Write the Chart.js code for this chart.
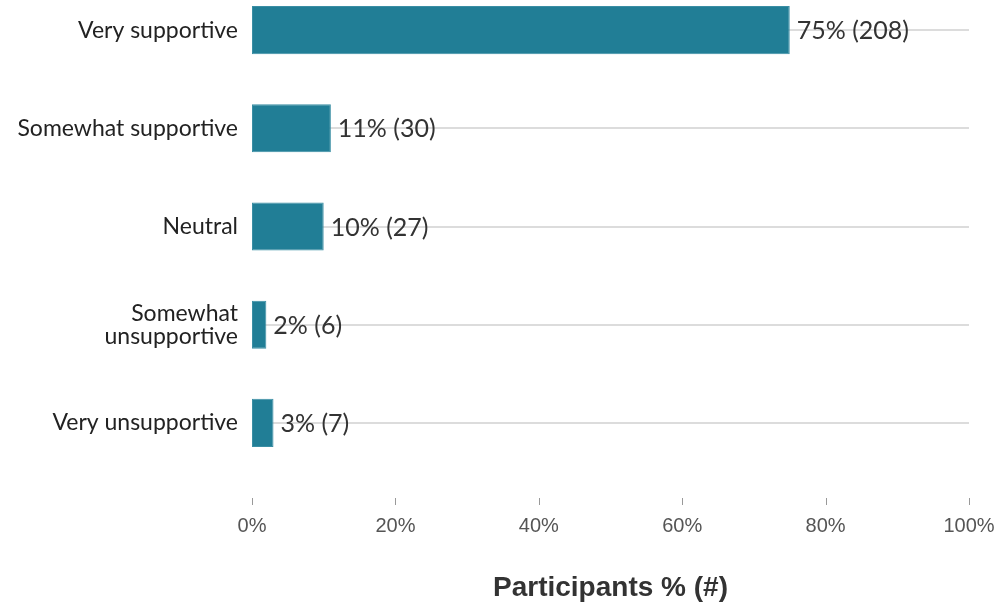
<!DOCTYPE html>
<html>
<head>
<meta charset="utf-8">
<script src="https://cdn.jsdelivr.net/npm/chart.js@4/dist/chart.umd.min.js"></script>
<style>
html,body{margin:0;padding:0;background:#fff;overflow:hidden;}
#outer{width:998px;height:605px;position:relative;overflow:hidden;}
#wrap{width:998px;height:624px;position:absolute;left:0;top:-19px;}
</style>
</head>
<body>
<div id="outer"><div id="wrap"><canvas id="c"></canvas></div></div>
<script>
const categories = ["Very supportive", "Somewhat supportive", "Neutral", ["Somewhat", "unsupportive"], "Very unsupportive"];
const percentValues = [75, 11, 10, 2, 3];
const countValues = [208, 30, 27, 6, 7];
const xTicks = [0, 20, 40, 60, 80, 100];
const axisTitle = "Participants % (#)";

const barColor = "#217e96";

const valueLabels = {
  id: 'valueLabels',
  afterDatasetsDraw(chart) {
    const ctx = chart.ctx;
    const meta = chart.getDatasetMeta(0);
    ctx.save();
    ctx.font = '25px Lato';
    ctx.fillStyle = '#333';
    ctx.textBaseline = 'middle';
    ctx.textAlign = 'left';
    meta.data.forEach((bar, i) => {
      ctx.fillText(percentValues[i] + '% (' + countValues[i] + ')', bar.x + 7, bar.y + 1);
    });
    ctx.restore();
  }
};

const tickMarks = {
  id: 'tickMarks',
  afterDraw(chart) {
    const ctx = chart.ctx;
    const xs = chart.scales.x;
    ctx.save();
    ctx.strokeStyle = '#999';
    ctx.lineWidth = 1;
    xTicks.forEach(v => {
      const px = Math.round(xs.getPixelForValue(v)) + 0.5;
      ctx.beginPath();
      ctx.moveTo(px, chart.chartArea.bottom + 26);
      ctx.lineTo(px, chart.chartArea.bottom + 33);
      ctx.stroke();
    });
    ctx.restore();
  }
};

new Chart(document.getElementById('c'), {
  type: 'bar',
  data: {
    labels: categories,
    datasets: [{
      data: percentValues,
      backgroundColor: barColor,
      borderColor: '#3a8ea4',
      borderWidth: 1,
      borderSkipped: false,
      barPercentage: 0.49,
      categoryPercentage: 1.0
    }]
  },
  options: {
    indexAxis: 'y',
    responsive: true,
    maintainAspectRatio: false,
    animation: false,
    layout: { padding: { top: 0, right: 29, left: 0, bottom: 0 } },
    plugins: { legend: { display: false }, tooltip: { enabled: false } },
    scales: {
      x: {
        min: 0, max: 100,
        afterBuildTicks(scale) { scale.ticks = xTicks.map(v => ({ value: v })); },
        afterFit(scale) { scale.height = 133; scale.paddingLeft = 0; scale.paddingRight = 0; },
        border: { display: false },
        grid: { display: false },
        ticks: {
          padding: 34,
          color: '#555',
          font: { family: 'Liberation Sans', size: 20 },
          callback: v => v + '%',
          maxRotation: 0
        },
        title: {
          display: true,
          text: axisTitle,
          color: '#333',
          font: { family: 'Liberation Sans', size: 28, weight: 'bold' },
          padding: { top: 28, bottom: 0 }
        }
      },
      y: {
        afterFit(scale) { scale.width = 252; scale.paddingTop = 0; scale.paddingBottom = 0; },
        border: { display: false },
        grid: { offset: false, color: '#dcdcdc', lineWidth: 2, drawTicks: false },
        ticks: {
          padding: 14,
          color: '#222',
          font: { family: 'Lato', size: 23, lineHeight: 1.0 }
        }
      }
    }
  },
  plugins: [valueLabels, tickMarks]
});
</script>
</body>
</html>
